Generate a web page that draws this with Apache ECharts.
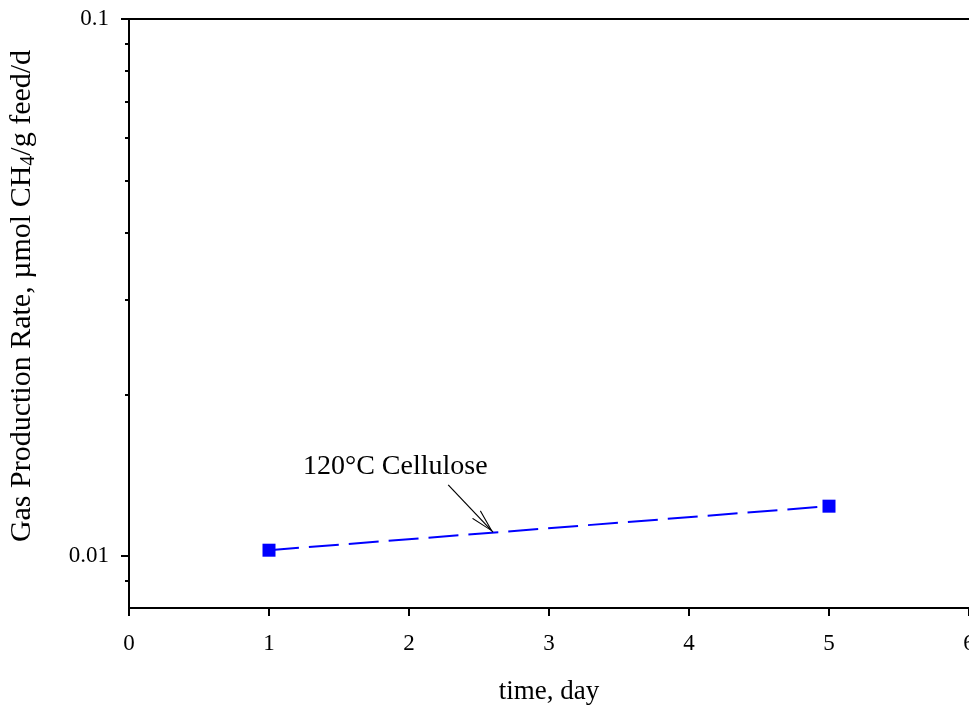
<!DOCTYPE html>
<html><head><meta charset="utf-8">
<script src="https://cdn.jsdelivr.net/npm/echarts@6/dist/echarts.min.js"></script>
<style>html,body{margin:0;padding:0;background:#fff}#c{width:969px;height:705px}</style>
</head><body><div id="c"></div>
<script>
// ---- data ----
const days = [1, 5];
const rates = [0.01025, 0.01238];
const seriesName = '120°C Cellulose';
const xMin = 0, xMax = 6, xStep = 1;
const yMin = 0.008, yMax = 0.1;
const yMajorTicks = [0.01, 0.1];
const yMinorTicks = [0.009, 0.02, 0.03, 0.04, 0.05, 0.06, 0.07, 0.08, 0.09];
const arrowFrom = [2.28, 0.01356];
const arrowTo = [2.6, 0.01108];
const xTitle = 'time, day';
const yTitleParts = ['Gas Production Rate, µmol CH', '4', '/g feed/d'];

const FONT = '"Liberation Serif", "Times New Roman", serif';
const chart = echarts.init(document.getElementById('c'), null, {renderer: 'canvas'});
const axisLine = {show: true, lineStyle: {color: '#000', width: 2}};

chart.setOption({
  backgroundColor: '#fff',
  animation: false,
  grid: {left: 129, right: 0, top: 19, bottom: 97, containLabel: false, outerBoundsMode: 'none'},
  xAxis: [{
    type: 'value', min: xMin, max: xMax, interval: xStep,
    position: 'bottom',
    axisLine: axisLine,
    axisTick: {show: true, inside: false, length: 8, lineStyle: {color: '#000', width: 2}},
    axisLabel: {color: '#000', fontFamily: FONT, fontSize: 23, margin: 24},
    splitLine: {show: false},
    name: xTitle, nameLocation: 'middle', nameGap: 70,
    nameTextStyle: {color: '#000', fontFamily: FONT, fontSize: 27}
  }, {
    type: 'value', min: xMin, max: xMax, interval: xStep,
    position: 'top',
    axisLine: axisLine,
    axisTick: {show: false}, axisLabel: {show: false}, splitLine: {show: false}
  }],
  yAxis: [{
    type: 'log', logBase: 10, min: yMin, max: yMax,
    position: 'left',
    axisLine: axisLine,
    axisTick: {show: true, inside: false, length: 8, customValues: yMajorTicks, lineStyle: {color: '#000', width: 2}},
    axisLabel: {color: '#000', fontFamily: FONT, fontSize: 23, margin: 20, customValues: yMajorTicks,
      formatter: v => String(+v.toPrecision(3))},
    splitLine: {show: false},
    minorTick: {show: false},
    name: '{n|' + yTitleParts[0] + '}{s|' + yTitleParts[1] + '}{n|' + yTitleParts[2] + '}',
    nameLocation: 'middle', nameGap: 90,
    nameTextStyle: {color: '#000', fontFamily: FONT, fontSize: 30, padding: [0, 0, 0, 35],
      rich: {
        n: {color: '#000', fontFamily: FONT, fontSize: 30, lineHeight: 32, verticalAlign: 'top'},
        s: {color: '#000', fontFamily: FONT, fontSize: 20, lineHeight: 20, verticalAlign: 'bottom'}
      }}
  }, {
    type: 'log', logBase: 10, min: yMin, max: yMax,
    position: 'left',
    axisLine: {show: false},
    axisTick: {show: true, inside: false, length: 4, customValues: yMinorTicks, lineStyle: {color: '#000', width: 2}},
    axisLabel: {show: false},
    splitLine: {show: false}
  }],
  series: [{
    name: seriesName,
    type: 'line',
    xAxisIndex: 0, yAxisIndex: 0,
    data: days.map((d, i) => [d, rates[i]]),
    symbol: 'rect', symbolSize: 13,
    itemStyle: {color: '#0000ff'},
    lineStyle: {color: '#0000ff', width: 2, type: [30, 10]},
    z: 3,
    markLine: {
      silent: true, animation: false,
      symbol: ['none', 'path://M5,0 L5.02,0 L5,0.02 Z M5,24 L10,48 L9,48 L5,28 L1,48 L0,48 Z'],
      symbolSize: [12, 48],
      lineStyle: {color: '#000', width: 1.2, type: 'solid'},
      label: {show: false},
      data: [[{coord: arrowFrom}, {coord: arrowTo}]]
    }
  }],
  graphic: [{
    type: 'text', left: 303, top: 453, z: 10,
    style: {text: seriesName, fill: '#000', font: '28px ' + FONT}
  }]
});
</script></body></html>
